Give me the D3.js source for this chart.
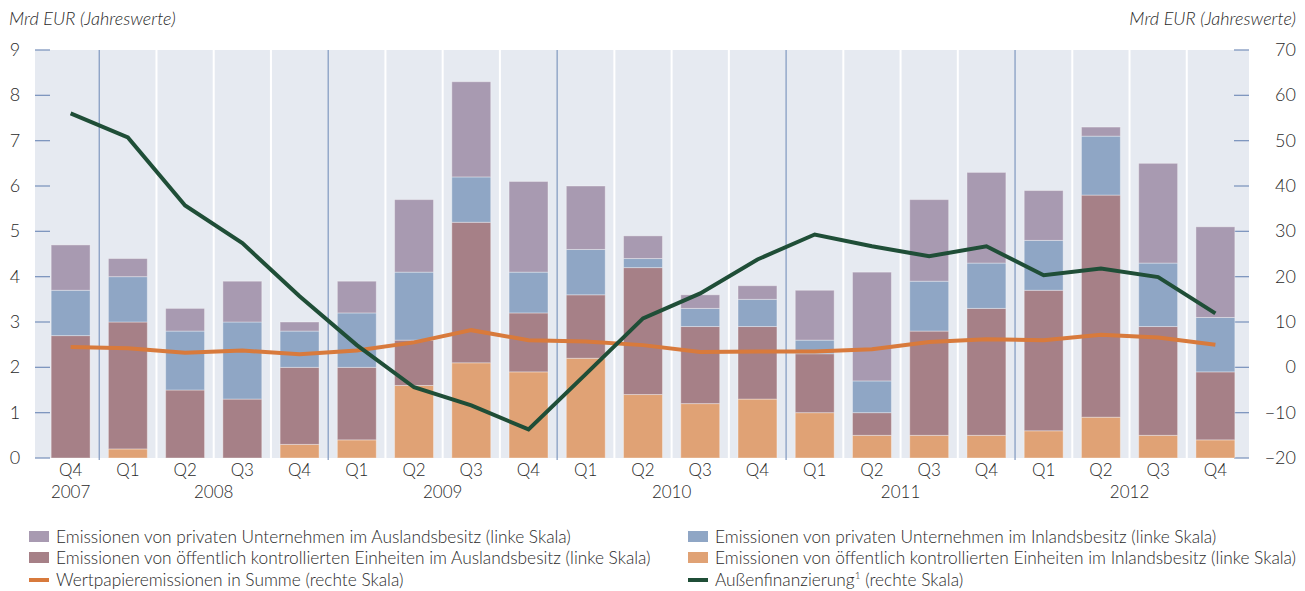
<!DOCTYPE html>
<html>
<head>
<meta charset="utf-8">
<script src="https://cdn.jsdelivr.net/npm/d3@7"></script>
<style>
  body { margin: 0; background: #fff; }
  text { font-family: Lato, "Open Sans", sans-serif; fill: #2a2a2a; font-weight: 300; }
</style>
</head>
<body>
<div id="root"></div>
<script>
// quarters on the x axis
var quarters = ["Q4", "Q1", "Q2", "Q3", "Q4", "Q1", "Q2", "Q3", "Q4", "Q1", "Q2", "Q3", "Q4",
                "Q1", "Q2", "Q3", "Q4", "Q1", "Q2", "Q3", "Q4"];
var years = [
  { label: "2007", from: 0, to: 0 },
  { label: "2008", from: 1, to: 4 },
  { label: "2009", from: 5, to: 8 },
  { label: "2010", from: 9, to: 12 },
  { label: "2011", from: 13, to: 16 },
  { label: "2012", from: 17, to: 20 }
];

// stacked components (left scale, bn EUR), bottom to top
var oeffInland  = [0, 0.2, 0, 0, 0.3, 0.4, 1.6, 2.1, 1.9, 2.2, 1.4, 1.2, 1.3, 1.0, 0.5, 0.5, 0.5, 0.6, 0.9, 0.5, 0.4];
var oeffAusland = [2.7, 2.8, 1.5, 1.3, 1.7, 1.6, 1.0, 3.1, 1.3, 1.4, 2.8, 1.7, 1.6, 1.3, 0.5, 2.3, 2.8, 3.1, 4.9, 2.4, 1.5];
var privInland  = [1.0, 1.0, 1.3, 1.7, 0.8, 1.2, 1.5, 1.0, 0.9, 1.0, 0.2, 0.4, 0.6, 0.3, 0.7, 1.1, 1.0, 1.1, 1.3, 1.4, 1.2];
var privAusland = [1.0, 0.4, 0.5, 0.9, 0.2, 0.7, 1.6, 2.1, 2.0, 1.4, 0.5, 0.3, 0.3, 1.1, 2.4, 1.8, 2.0, 1.1, 0.2, 2.2, 2.0];

// lines (right scale)
var summe = [4.5, 4.2, 3.2, 3.7, 2.9, 3.7, 5.5, 8.2, 6.0, 5.7, 4.9, 3.4, 3.5, 3.5, 4.0, 5.6, 6.2, 6.0, 7.2, 6.6, 5.0];
var aussen = [56.0, 50.7, 35.7, 27.4, 15.7, 4.9, -4.4, -8.4, -13.7, -1.5, 10.8, 16.3, 23.8, 29.3, 26.7, 24.5, 26.7, 20.3, 21.8, 19.9, 11.9];

var leftTicks = [0, 1, 2, 3, 4, 5, 6, 7, 8, 9];
var rightTicks = [-20, -10, 0, 10, 20, 30, 40, 50, 60, 70];

var colors = {
  privAusland: "#a89ab1",
  oeffAusland: "#a68087",
  privInland: "#8fa6c5",
  oeffInland: "#e0a275",
  summe: "#d87a3c",
  aussen: "#1f4e37"
};

var width = 1305, height = 591;
var plot = { left: 35, right: 1249, top: 50, bottom: 458 };

var svg = d3.select("#root").append("svg")
  .attr("width", width)
  .attr("height", height);

var x = d3.scaleBand()
  .domain(d3.range(quarters.length))
  .range([42, 1244])
  .paddingInner(0.32)
  .paddingOuter(0.16);

var step = x.step();
var cx = function(i) { return x(i) + x.bandwidth() / 2; };

var yL = d3.scaleLinear().domain([0, 9]).range([plot.bottom, plot.top]);
var yR = d3.scaleLinear().domain([-20, 70]).range([plot.bottom, plot.top]);

// background
svg.append("rect")
  .attr("x", plot.left).attr("y", plot.top)
  .attr("width", plot.right - plot.left).attr("height", plot.bottom - plot.top)
  .attr("fill", "#e6eaf1");

// vertical separators between quarters
var seps = d3.range(1, quarters.length);
svg.append("g").selectAll("line")
  .data(seps)
  .join("line")
  .attr("x1", function(i) { return cx(i) - step / 2; })
  .attr("x2", function(i) { return cx(i) - step / 2; })
  .attr("y1", plot.top)
  .attr("y2", function(i) { return quarters[i] == "Q1" ? plot.bottom + 2 : plot.bottom; })
  .attr("stroke", function(i) { return quarters[i] == "Q1" ? "#7f97bf" : "#ffffff"; })
  .attr("stroke-width", function(i) { return quarters[i] == "Q1" ? 1.2 : 2; });

// axis ticks (inside plot)
svg.append("g").selectAll("line")
  .data(leftTicks)
  .join("line")
  .attr("x1", plot.left).attr("x2", plot.left + 15)
  .attr("y1", function(d) { return yL(d); }).attr("y2", function(d) { return yL(d); })
  .attr("stroke", "#7f97bf").attr("stroke-width", 1.3);

svg.append("g").selectAll("line")
  .data(rightTicks)
  .join("line")
  .attr("x1", plot.right - 15).attr("x2", plot.right)
  .attr("y1", function(d) { return yR(d); }).attr("y2", function(d) { return yR(d); })
  .attr("stroke", "#7f97bf").attr("stroke-width", 1.3);

// stacked bars
var keys = ["oeffInland", "oeffAusland", "privInland", "privAusland"];
var series = { oeffInland: oeffInland, oeffAusland: oeffAusland, privInland: privInland, privAusland: privAusland };
var rows = quarters.map(function(q, i) {
  var r = { i: i };
  keys.forEach(function(k) { r[k] = series[k][i]; });
  return r;
});
var stack = d3.stack().keys(keys)(rows);

svg.append("g").selectAll("g")
  .data(stack)
  .join("g")
  .attr("fill", function(s) { return colors[s.key]; })
  .selectAll("rect")
  .data(function(s) { return s; })
  .join("rect")
  .attr("x", function(d) { return x(d.data.i); })
  .attr("width", x.bandwidth())
  .attr("y", function(d) { return yL(d[1]); })
  .attr("height", function(d) { return Math.max(0, yL(d[0]) - yL(d[1])); })
  .attr("stroke", "rgba(255,255,255,0.35)")
  .attr("stroke-width", 1);

// lines
var line = d3.line()
  .x(function(d, i) { return cx(i); })
  .y(function(d) { return yR(d); });

svg.append("path")
  .datum(summe)
  .attr("fill", "none")
  .attr("stroke", colors.summe)
  .attr("stroke-width", 4)
  .attr("d", line);

svg.append("path")
  .datum(aussen)
  .attr("fill", "none")
  .attr("stroke", colors.aussen)
  .attr("stroke-width", 4)
  .attr("d", line);

// tick labels
svg.append("g").selectAll("text")
  .data(leftTicks)
  .join("text")
  .attr("x", 15).attr("y", function(d) { return yL(d) + 6; })
  .attr("text-anchor", "middle")
  .style("font-size", "18px")
  .text(function(d) { return d; });

svg.append("g").selectAll("text")
  .data(rightTicks)
  .join("text")
  .attr("x", 1296).attr("y", function(d) { return yR(d) + 6; })
  .attr("text-anchor", "end")
  .style("font-size", "18px")
  .text(function(d) { return d < 0 ? "\u2212" + Math.abs(d) : d; });

// axis titles
svg.append("text")
  .attr("x", 9).attr("y", 25)
  .style("font-size", "18px").style("font-style", "italic")
  .text("Mrd EUR (Jahreswerte)");

svg.append("text")
  .attr("x", 1296).attr("y", 25)
  .attr("text-anchor", "end")
  .style("font-size", "18px").style("font-style", "italic")
  .text("Mrd EUR (Jahreswerte)");

// quarter labels
svg.append("g").selectAll("text")
  .data(quarters)
  .join("text")
  .attr("x", function(d, i) { return cx(i); })
  .attr("y", 476)
  .attr("text-anchor", "middle")
  .style("font-size", "17px")
  .text(function(d) { return d; });

svg.append("g").selectAll("text")
  .data(years)
  .join("text")
  .attr("x", function(d) { return (cx(d.from) + cx(d.to)) / 2; })
  .attr("y", 498)
  .attr("text-anchor", "middle")
  .style("font-size", "17px")
  .text(function(d) { return d.label; });

// legend
var legend = [
  { key: "privAusland", type: "box", col: 0, row: 0, label: "Emissionen von privaten Unternehmen im Auslandsbesitz (linke Skala)" },
  { key: "oeffAusland", type: "box", col: 0, row: 1, label: "Emissionen von öffentlich kontrollierten Einheiten im Auslandsbesitz (linke Skala)" },
  { key: "summe", type: "line", col: 0, row: 2, label: "Wertpapieremissionen in Summe (rechte Skala)" },
  { key: "privInland", type: "box", col: 1, row: 0, label: "Emissionen von privaten Unternehmen im Inlandsbesitz (linke Skala)" },
  { key: "oeffInland", type: "box", col: 1, row: 1, label: "Emissionen von öffentlich kontrollierten Einheiten im Inlandsbesitz (linke Skala)" },
  { key: "aussen", type: "line", col: 1, row: 2, label: "Außenfinanzierung", sup: "1", rest: " (rechte Skala)" }
];
var colX = [29, 688];
var rowY = [537, 558, 580];

var lg = svg.append("g").selectAll("g")
  .data(legend)
  .join("g")
  .attr("transform", function(d) { return "translate(" + colX[d.col] + "," + rowY[d.row] + ")"; });

lg.append("rect")
  .attr("x", 0)
  .attr("y", function(d) { return d.type == "box" ? -6 : -2; })
  .attr("width", 20)
  .attr("height", function(d) { return d.type == "box" ? 11 : 4; })
  .attr("fill", function(d) { return colors[d.key]; });

var lt = lg.append("text")
  .attr("x", 27).attr("y", 6)
  .style("font-size", "17.3px");
lt.append("tspan").text(function(d) { return d.label; });
lt.filter(function(d) { return d.sup; }).append("tspan")
  .attr("dy", -7).style("font-size", "10px").text(function(d) { return d.sup; });
lt.filter(function(d) { return d.rest; }).append("tspan")
  .attr("dy", 7).text(function(d) { return d.rest; });
</script>
</body>
</html>
